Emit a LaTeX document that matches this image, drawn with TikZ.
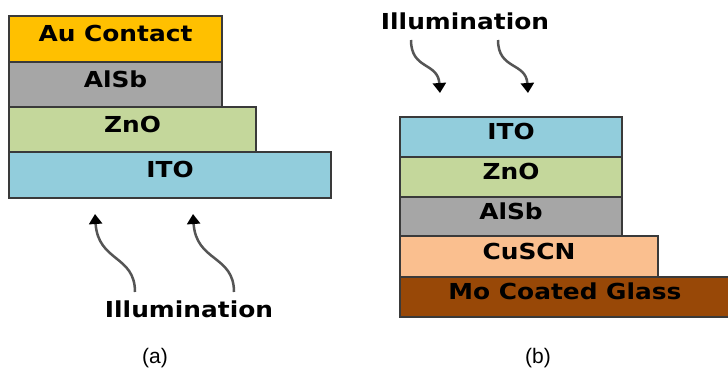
\documentclass[tikz,border=0pt]{standalone}
\usepackage{fontspec}
\setmainfont{Liberation Sans}
\newfontfamily\boldfam{DejaVu Sans}[BoldFont={DejaVu Sans Bold}]
\usetikzlibrary{arrows.meta}
\definecolor{auC}{HTML}{FFC000}
\definecolor{alsbC}{HTML}{A6A6A6}
\definecolor{znoC}{HTML}{C4D79B}
\definecolor{itoC}{HTML}{92CDDC}
\definecolor{cuscnC}{HTML}{FABF8F}
\definecolor{moC}{HTML}{984807}
\definecolor{edgeC}{HTML}{3A3A3A}
\definecolor{arrC}{HTML}{555555}
\newcommand{\lbl}[1]{\smash{\raisebox{-2.5pt}{\scalebox{1.13}[1]{\boldfam\bfseries\fontsize{22}{23}\selectfont #1}}}}
\tikzset{
  layer/.style={draw=edgeC, line width=1.2pt, rectangle, anchor=north west, inner sep=0pt, outer sep=0pt},
  illum/.style={draw=arrC, line width=2.5pt, -{Triangle[width=13pt,length=10pt,color=black]}},
  caption/.style={anchor=base, inner sep=0pt, font=\fontsize{21}{22}\selectfont},
  illtext/.style={anchor=base, inner sep=0pt}
}
\begin{document}
\begin{tikzpicture}[x=1pt,y=-1pt]
\useasboundingbox (0,0) rectangle (728,367);
% (a)
\node[layer, fill=auC, minimum width=213pt, minimum height=46pt] (au) at (9,16) {\lbl{Au Contact}};
\node[layer, fill=alsbC, minimum width=213pt, minimum height=45pt] (alsbA) at (9,62) {\lbl{AlSb}};
\node[layer, fill=znoC, minimum width=247pt, minimum height=45pt] (znoA) at (9,107) {\lbl{ZnO}};
\node[layer, fill=itoC, minimum width=322pt, minimum height=46pt] (itoA) at (9,152) {\lbl{ITO}};
\node[illtext] (illA) at (189,314.5) {\lbl{Illumination}};
\coordinate (a1s) at (135,292);
\coordinate (a1e) at (95,214);
\coordinate (a2s) at (234,292);
\coordinate (a2e) at (193,214);
\draw[illum] (a1s) .. controls (135,255) and (98,262) .. (a1e);
\draw[illum] (a2s) .. controls (234,255) and (196,262) .. (a2e);
\node[caption] (capA) at (155,363) {(a)};
% (b)
\node[layer, fill=itoC, minimum width=222pt, minimum height=40pt] (itoB) at (400,117) {\lbl{ITO}};
\node[layer, fill=znoC, minimum width=222pt, minimum height=40pt] (znoB) at (400,157) {\lbl{ZnO}};
\node[layer, fill=alsbC, minimum width=222pt, minimum height=39pt] (alsbB) at (400,197) {\lbl{AlSb}};
\node[layer, fill=cuscnC, minimum width=258pt, minimum height=41pt] (cuscn) at (400,236) {\lbl{CuSCN}};
\node[layer, fill=moC, minimum width=330pt, minimum height=40pt] (mo) at (400,277) {\lbl{Mo Coated Glass}};
\node[illtext] (illB) at (465,26.5) {\lbl{Illumination}};
\coordinate (b1s) at (411,40);
\coordinate (b1e) at (440,93);
\coordinate (b2s) at (498,40);
\coordinate (b2e) at (528,93);
\draw[illum] (b1s) .. controls (411,70) and (438,62) .. (b1e);
\draw[illum] (b2s) .. controls (498,70) and (526,62) .. (b2e);
\node[caption] (capB) at (538,363) {(b)};
\end{tikzpicture}
\end{document}
